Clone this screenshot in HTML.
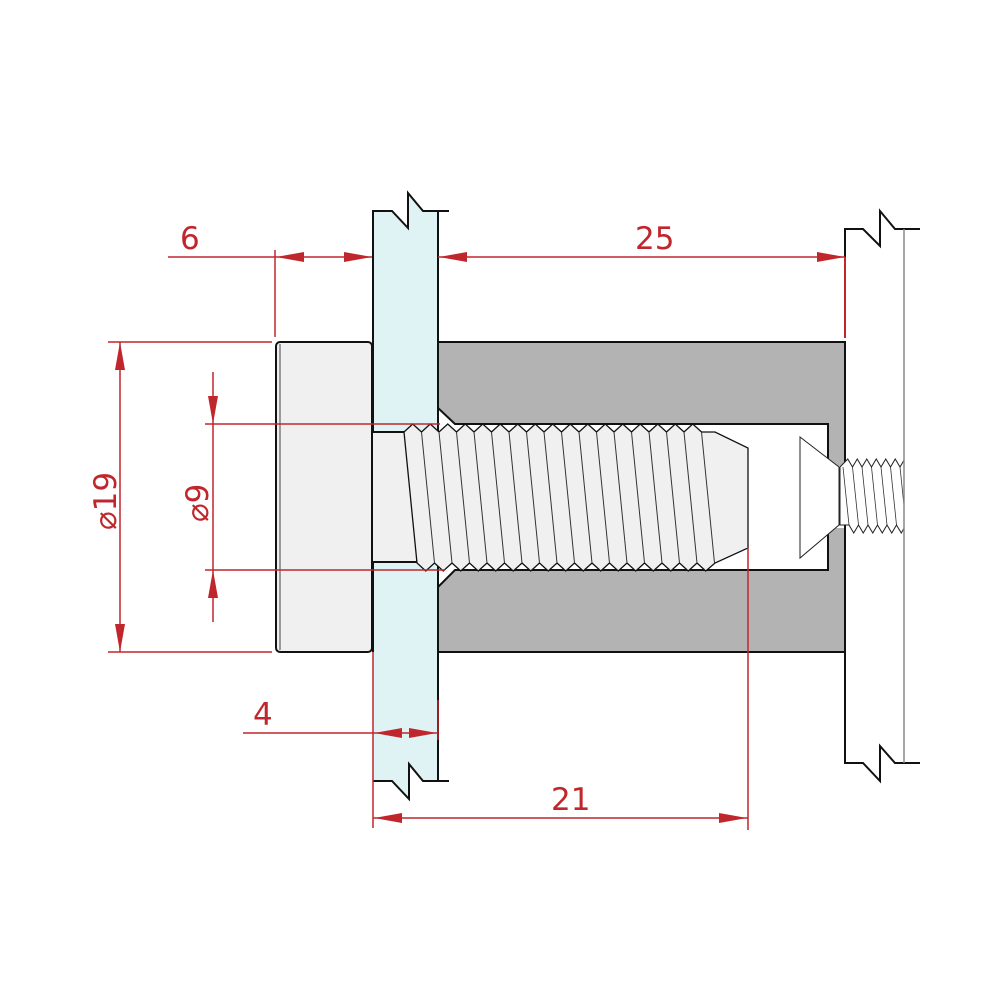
<!DOCTYPE html>
<html><head><meta charset="utf-8"><style>html,body{margin:0;padding:0;background:#fff}svg{display:block}</style></head>
<body>
<svg id="s" width="1000" height="1000" viewBox="0 0 1000 1000" xmlns="http://www.w3.org/2000/svg" font-family="'DejaVu Sans','Liberation Sans',sans-serif">
<defs><clipPath id="c2"><rect x="838" y="450" width="66" height="90"/></clipPath></defs>
<rect width="1000" height="1000" fill="#fff"/>
<path d="M438,342 H845 V652 H438 V587 L455,570 H828 V424 H455 L438,408 Z" fill="#b3b3b3" stroke="#111" stroke-width="2"/>
<rect x="829" y="466" width="16" height="62" fill="#fff"/>
<path d="M373,211 H392 L408,228 V193 L423,211 H438 V781 H423 L409,764 V799 L392,781 H373 Z" fill="#dff3f4" stroke="none"/>
<path d="M373,652 V211 H392 L408,228 V193 L423,211 H449 M438,211 V740 M373,781 H392 L409,799 V764 L423,781 H449 M438,740 V781" fill="none" stroke="#111" stroke-width="2"/>
<rect x="276" y="342" width="96" height="310" rx="4" fill="#f0f0f0" stroke="#111" stroke-width="2"/>
<line x1="280" y1="344" x2="280" y2="650" stroke="#444" stroke-width="1"/>
<rect x="372" y="432" width="45" height="130" fill="#f0f0f0" stroke="#111" stroke-width="2"/>
<g id="thr"></g>
<path d="M845,338 V229 H863 L880,246 V211 L895,229 H920 M845,652 V763 H863 L880,781 V746 L895,763 H920" fill="none" stroke="#111" stroke-width="2"/>
<line x1="845" y1="342" x2="845" y2="652" stroke="#111" stroke-width="2"/>
<path d="M800,437 L839,467 V525 L800,558 Z" fill="#fff" stroke="#222" stroke-width="1"/>
<g id="thr2" clip-path="url(#c2)"></g>
<line x1="904" y1="229" x2="904" y2="763" stroke="#888" stroke-width="1.5"/>
<g stroke="#c0272d" stroke-width="1.5" fill="none">
<line x1="168" y1="257" x2="372" y2="257"/><line x1="275" y1="250" x2="275" y2="337"/>
<line x1="438" y1="257" x2="845" y2="257"/><line x1="845" y1="257" x2="845" y2="338" stroke-width="2"/>
<line x1="108" y1="342" x2="272" y2="342"/><line x1="108" y1="652" x2="272" y2="652"/>
<line x1="120" y1="342" x2="120" y2="652"/>
<line x1="205" y1="424" x2="440" y2="424"/><line x1="205" y1="570" x2="445" y2="570"/>
<line x1="213" y1="372" x2="213" y2="622"/>
<line x1="243" y1="733" x2="438" y2="733"/>
<line x1="373" y1="652" x2="373" y2="828"/><line x1="438" y1="700" x2="438" y2="740"/>
<line x1="373" y1="818" x2="748" y2="818"/><line x1="748" y1="548" x2="748" y2="830"/>
</g>
<g fill="#c0272d">
<path d="M276,257 l28,-5 v10 z"/><path d="M372,257 l-28,-5 v10 z"/>
<path d="M439,257 l28,-5 v10 z"/><path d="M845,257 l-28,-5 v10 z"/>
<path d="M120,342 l-5,28 h10 z"/><path d="M120,652 l-5,-28 h10 z"/>
<path d="M213,424 l-5,-28 h10 z"/><path d="M213,570 l-5,28 h10 z"/>
<path d="M374,733 l28,-5 v10 z"/><path d="M437,733 l-28,-5 v10 z"/>
<path d="M374,818 l28,-5 v10 z"/><path d="M747,818 l-28,-5 v10 z"/>
</g>
<g fill="#c0272d" font-size="31">
<text x="180" y="249">6</text>
<text x="635" y="249">25</text>
<text x="253" y="725">4</text>
<text x="551" y="810">21</text>
<text transform="translate(116,530) rotate(-90)">⌀19</text>
<text transform="translate(208,522) rotate(-90)">⌀9</text>
</g>
</svg>
<script>
var ns="http://www.w3.org/2000/svg";
function el(p,t,a){var e=document.createElementNS(ns,t);for(var k in a)e.setAttribute(k,a[k]);p.appendChild(e);return e;}
var g=document.getElementById('thr');
var p=17.5,x0=404,n=17,s=13;
var d="M"+x0+",432";
for(var i=0;i<n;i++){var x=x0+i*p;d+=" L"+(x+p/2)+",424 L"+(x+p)+",432";}
d+=" L715,432 L748,448 L748,548 L715,563";
for(var i=n-1;i>=0;i--){var x=x0+s+i*p;d+=" L"+(x+p/2)+",571 L"+x+",563";}
d+=" Z";
el(g,'path',{d:d,fill:'#f0f0f0',stroke:'#111','stroke-width':1.3});
for(var i=1;i<=n;i++){var x=x0+i*p;el(g,'line',{x1:x,y1:432,x2:x+s,y2:563,stroke:'#333','stroke-width':1});}
var g2=document.getElementById('thr2');
var q=9.5,s2=6,m=8;
var d2="M840,467";
for(var i=0;i<m;i++){var x=843+i*q;d2+=" L"+(x+q/2)+",459 L"+(x+q)+",467";}
d2+=" L920,467 V525";
for(var i=m-1;i>=0;i--){var x=843+s2+i*q;d2+=" L"+(x+q)+",525 L"+(x+q/2)+",533";}
d2+=" L849,525 H840 Z";
el(g2,'path',{d:d2,fill:'#fff',stroke:'#222','stroke-width':1});
for(var i=0;i<m;i++){var x=843+i*q;el(g2,'line',{x1:x,y1:467,x2:x+s2,y2:525,stroke:'#333','stroke-width':0.8});}
</script>
</body></html>
